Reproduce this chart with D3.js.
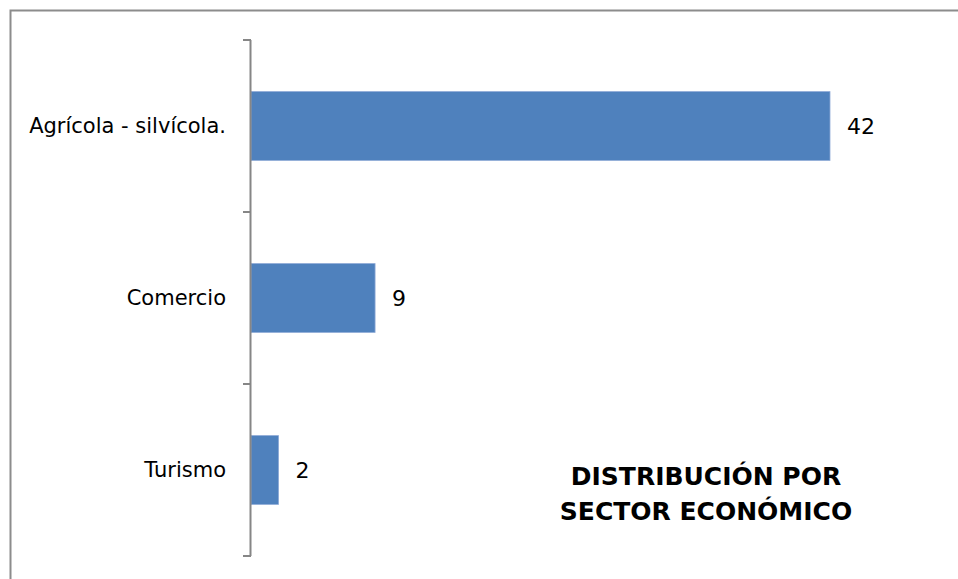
<!DOCTYPE html>
<html>
<head>
<meta charset="utf-8">
<script src="https://cdn.jsdelivr.net/npm/d3@7"></script>
<style>
  body { margin: 0; background: #fff; }
  svg text { font-family: "DejaVu Sans", sans-serif; fill: #000; }
</style>
</head>
<body>
<svg width="958" height="579"></svg>
<script>
// chart data
var categories = ['Agrícola - silvícola.', 'Comercio', 'Turismo'];
var values = [42, 9, 2];
var titleLines = ['DISTRIBUCIÓN POR', 'SECTOR ECONÓMICO'];

var svg = d3.select('svg');

// outer frame
svg.append('rect')
   .attr('x', 10.5).attr('y', 10.5)
   .attr('width', 960).attr('height', 580)
   .attr('fill', 'none')
   .attr('stroke', '#8c8c8c')
   .attr('stroke-width', 2);

var x = d3.scaleLinear().domain([0, 42]).range([251, 830]);
var y = d3.scaleBand().domain(categories).range([40, 556]).paddingInner(0.6).paddingOuter(0.3);

// bars
svg.selectAll('.bar')
   .data(values)
   .enter().append('rect')
   .attr('class', 'bar')
   .attr('x', x(0))
   .attr('y', function(d, i){ return y(categories[i]); })
   .attr('width', function(d){ return x(d) - x(0); })
   .attr('height', y.bandwidth())
   .attr('fill', '#4f81bd')
   .attr('stroke', '#8eaad6')
   .attr('stroke-width', 0.8);

// value labels
svg.selectAll('.val')
   .data(values)
   .enter().append('text')
   .attr('class', 'val')
   .attr('x', function(d){ return x(d) + 17; })
   .attr('y', function(d, i){ return y(categories[i]) + y.bandwidth()/2; })
   .attr('dy', '0.35em')
   .style('font-size', '22px')
   .text(function(d){ return d; });

// category axis: line plus ticks between bands
var axisTop = 40, axisBot = 556;
svg.append('line')
   .attr('x1', 250.5).attr('x2', 250.5)
   .attr('y1', axisTop).attr('y2', axisBot)
   .attr('stroke', '#868686').attr('stroke-width', 2);

d3.range(categories.length + 1).forEach(function(i){
  var ty = axisTop + i * (axisBot - axisTop) / categories.length;
  svg.append('line')
     .attr('x1', 243).attr('x2', 251)
     .attr('y1', ty).attr('y2', ty)
     .attr('stroke', '#868686').attr('stroke-width', 2);
});

svg.selectAll('.cat')
   .data(categories)
   .enter().append('text')
   .attr('class', 'cat')
   .attr('x', 226)
   .attr('y', function(d){ return y(d) + y.bandwidth()/2; })
   .attr('dy', '0.35em')
   .attr('text-anchor', 'end')
   .style('font-size', '21px')
   .text(function(d){ return d; });

// title
svg.selectAll('.title')
   .data(titleLines)
   .enter().append('text')
   .attr('class', 'title')
   .attr('x', 706)
   .attr('y', function(d, i){ return 476 + i * 35; })
   .attr('dy', '0.35em')
   .attr('text-anchor', 'middle')
   .style('font-size', '25px')
   .style('font-weight', 'bold')
   .text(function(d){ return d; });
</script>
</body>
</html>
